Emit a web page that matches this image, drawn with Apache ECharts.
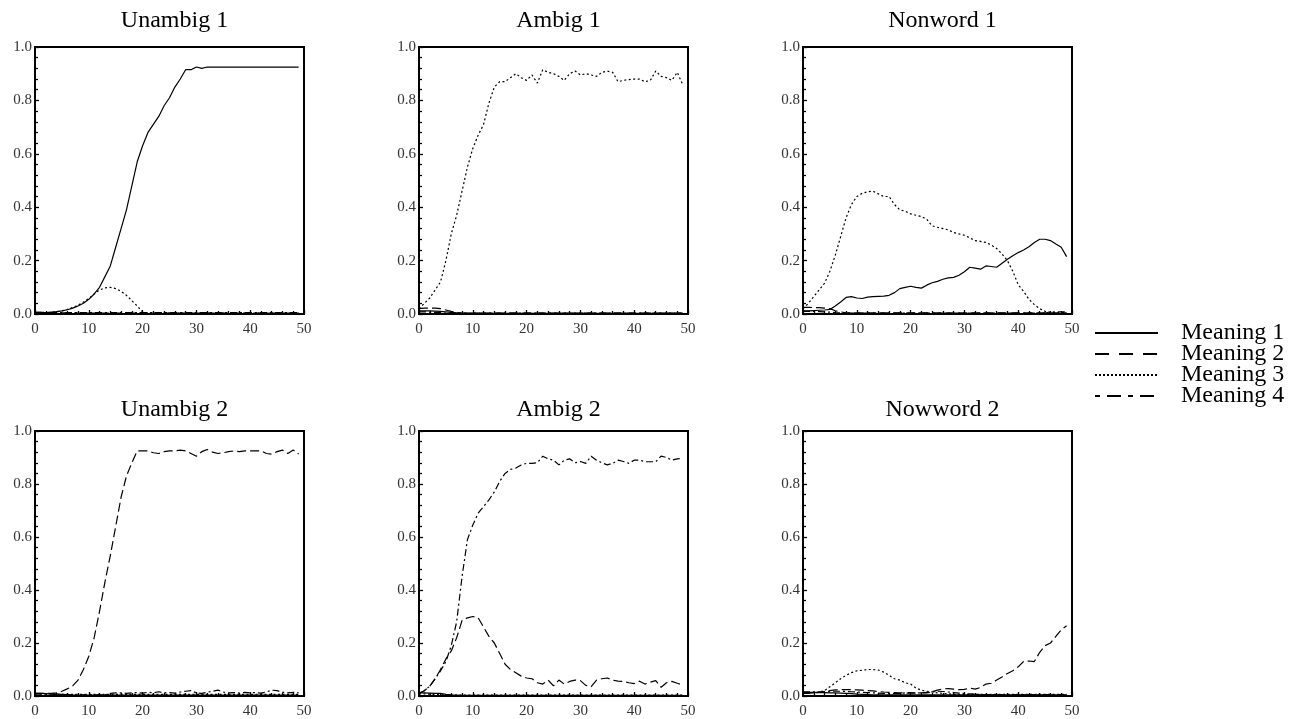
<!DOCTYPE html>
<html>
<head>
<meta charset="utf-8">
<script src="https://cdn.jsdelivr.net/npm/echarts@6/dist/echarts.min.js"></script>
<style>
html,body{margin:0;padding:0;background:#fff;}
#chart{width:1292px;height:719px;}
</style>
</head>
<body>
<div id="chart"></div>
<script>
// ---- DATA ----
const panelTitles = ['Unambig 1','Ambig 1','Nonword 1','Unambig 2','Ambig 2','Nowword 2'];
const meaningNames = ['Meaning 1','Meaning 2','Meaning 3','Meaning 4'];
const xTicks = [0,10,20,30,40,50];
const yTicks = [0.0,0.2,0.4,0.6,0.8,1.0];
const steps = [0,1,2,3,4,5,6,7,8,9,10,11,12,13,14,15,16,17,18,19,20,21,22,23,24,25,26,27,28,29,30,31,32,33,34,35,36,37,38,39,40,41,42,43,44,45,46,47,48,49];

// Unambig 1
const u1_m1 = [0.005,0.005,0.005,0.007,0.009,0.012,0.016,0.022,0.03,0.04,0.055,0.075,0.1,0.14,0.18,0.25,0.32,0.39,0.48,0.57,0.63,0.68,0.71,0.74,0.78,0.81,0.85,0.88,0.915,0.915,0.925,0.92,0.925,0.925,0.925,0.925,0.925,0.925,0.925,0.925,0.925,0.925,0.925,0.925,0.925,0.925,0.925,0.925,0.925,0.925];
const u1_m2 = [0.006,0.006,0.006,0.005,0.005,0.004,0.004,0.003,0.003,0.003,0.003,0.003,0.003,0.003,0.003,0.003,0.003,0.003,0.003,0.003,0.003,0.003,0.003,0.003,0.003,0.003,0.003,0.003,0.003,0.003,0.003,0.003,0.003,0.003,0.003,0.003,0.003,0.003,0.003,0.003,0.003,0.003,0.003,0.003,0.003,0.003,0.003,0.003,0.003,0.003];
const u1_m3 = [0.005,0.005,0.005,0.005,0.008,0.012,0.017,0.024,0.033,0.045,0.058,0.075,0.09,0.098,0.1,0.095,0.085,0.07,0.05,0.03,0.008,0.003,0.003,0.003,0.003,0.003,0.003,0.003,0.003,0.003,0.003,0.003,0.003,0.003,0.003,0.003,0.003,0.003,0.003,0.003,0.003,0.003,0.003,0.003,0.003,0.003,0.003,0.003,0.003,0.003];
const u1_m4 = [0.006,0.006,0.005,0.005,0.005,0.005,0.005,0.005,0.005,0.005,0.005,0.005,0.005,0.005,0.005,0.005,0.005,0.005,0.005,0.005,0.005,0.005,0.005,0.005,0.005,0.005,0.005,0.005,0.005,0.005,0.005,0.005,0.005,0.005,0.005,0.005,0.005,0.005,0.005,0.005,0.005,0.005,0.005,0.005,0.005,0.005,0.005,0.005,0.005,0.005];

// Ambig 1
const a1_m1 = [0.012,0.012,0.012,0.011,0.01,0.008,0.006,0.004,0.002,0.002,0.002,0.002,0.002,0.002,0.002,0.002,0.002,0.002,0.002,0.002,0.002,0.002,0.002,0.002,0.002,0.002,0.002,0.002,0.002,0.002,0.002,0.002,0.002,0.002,0.002,0.002,0.002,0.002,0.002,0.002,0.002,0.002,0.002,0.002,0.002,0.002,0.002,0.002,0.002,0.002];
const a1_m2 = [0.02,0.022,0.022,0.022,0.02,0.015,0.01,0.006,0.003,0.003,0.003,0.003,0.003,0.003,0.003,0.003,0.003,0.003,0.003,0.003,0.003,0.003,0.003,0.003,0.003,0.003,0.003,0.003,0.003,0.003,0.003,0.003,0.003,0.003,0.003,0.003,0.003,0.003,0.003,0.003,0.003,0.003,0.003,0.003,0.003,0.003,0.003,0.003,0.003,0.003];
const a1_m3 = [0.02,0.04,0.06,0.09,0.12,0.2,0.3,0.37,0.46,0.55,0.62,0.67,0.71,0.79,0.85,0.87,0.87,0.885,0.9,0.885,0.875,0.895,0.865,0.915,0.905,0.9,0.89,0.875,0.9,0.91,0.895,0.9,0.895,0.89,0.905,0.91,0.905,0.87,0.875,0.878,0.88,0.88,0.87,0.875,0.91,0.89,0.885,0.875,0.905,0.86];
const a1_m4 = [0.008,0.008,0.007,0.006,0.005,0.003,0.003,0.003,0.003,0.003,0.003,0.003,0.003,0.003,0.003,0.003,0.003,0.003,0.003,0.003,0.003,0.003,0.003,0.003,0.003,0.003,0.003,0.003,0.003,0.003,0.003,0.003,0.003,0.003,0.003,0.003,0.003,0.003,0.003,0.003,0.003,0.003,0.003,0.003,0.003,0.003,0.003,0.003,0.003,0.003];

// Nonword 1
const n1_m1 = [0.012,0.012,0.013,0.014,0.015,0.017,0.03,0.045,0.062,0.065,0.06,0.058,0.063,0.065,0.066,0.067,0.07,0.08,0.095,0.1,0.104,0.1,0.097,0.108,0.117,0.122,0.13,0.135,0.137,0.145,0.158,0.175,0.172,0.168,0.18,0.178,0.175,0.19,0.205,0.218,0.23,0.24,0.252,0.268,0.28,0.28,0.275,0.262,0.25,0.215];
const n1_m2 = [0.025,0.025,0.024,0.024,0.022,0.02,0.012,0.008,0.004,0.004,0.004,0.004,0.004,0.004,0.004,0.004,0.004,0.004,0.004,0.004,0.004,0.004,0.004,0.004,0.004,0.004,0.004,0.004,0.004,0.004,0.004,0.004,0.004,0.004,0.004,0.004,0.004,0.004,0.004,0.004,0.004,0.004,0.004,0.004,0.004,0.004,0.004,0.004,0.004,0.004];
const n1_m3 = [0.02,0.04,0.065,0.09,0.115,0.16,0.22,0.29,0.36,0.41,0.44,0.452,0.458,0.46,0.45,0.44,0.44,0.41,0.39,0.385,0.375,0.37,0.365,0.355,0.33,0.325,0.32,0.315,0.305,0.3,0.295,0.285,0.275,0.272,0.268,0.258,0.245,0.225,0.2,0.16,0.11,0.085,0.055,0.035,0.02,0.01,0.006,0.005,0.005,0.005];
const n1_m4 = [0.01,0.01,0.01,0.009,0.008,0.007,0.005,0.004,0.003,0.003,0.003,0.003,0.003,0.003,0.003,0.003,0.003,0.003,0.003,0.003,0.003,0.003,0.003,0.003,0.003,0.003,0.003,0.003,0.003,0.003,0.003,0.003,0.003,0.003,0.003,0.003,0.003,0.003,0.003,0.003,0.003,0.003,0.003,0.003,0.003,0.003,0.008,0.008,0.008,0.008];

// Unambig 2
const u2_m1 = [0.01,0.01,0.009,0.008,0.007,0.006,0.005,0.003,0.003,0.003,0.003,0.003,0.003,0.003,0.003,0.003,0.003,0.003,0.003,0.003,0.003,0.003,0.003,0.003,0.003,0.003,0.003,0.003,0.003,0.003,0.003,0.003,0.003,0.003,0.003,0.003,0.003,0.003,0.003,0.003,0.003,0.003,0.003,0.003,0.003,0.003,0.003,0.003,0.003,0.003];
const u2_m2 = [0.01,0.01,0.01,0.01,0.012,0.018,0.027,0.038,0.06,0.1,0.15,0.22,0.32,0.43,0.53,0.64,0.75,0.83,0.88,0.925,0.925,0.925,0.918,0.915,0.922,0.925,0.925,0.928,0.925,0.915,0.905,0.922,0.93,0.92,0.915,0.918,0.922,0.925,0.922,0.925,0.925,0.925,0.925,0.915,0.913,0.922,0.928,0.915,0.928,0.913];
const u2_m3 = [0.008,0.008,0.008,0.007,0.007,0.006,0.006,0.006,0.006,0.006,0.006,0.006,0.006,0.006,0.006,0.006,0.006,0.006,0.006,0.006,0.006,0.006,0.006,0.006,0.006,0.006,0.006,0.006,0.006,0.006,0.006,0.006,0.006,0.006,0.006,0.006,0.006,0.006,0.006,0.006,0.006,0.006,0.006,0.006,0.006,0.006,0.006,0.006,0.006,0.006];
const u2_m4 = [0.004,0.004,0.004,0.004,0.004,0.004,0.004,0.004,0.004,0.004,0.004,0.004,0.004,0.004,0.01,0.012,0.012,0.01,0.012,0.013,0.011,0.014,0.012,0.016,0.012,0.013,0.011,0.015,0.018,0.02,0.012,0.01,0.014,0.018,0.022,0.015,0.012,0.013,0.011,0.014,0.012,0.013,0.011,0.015,0.022,0.02,0.014,0.012,0.014,0.012];

// Ambig 2
const a2_m1 = [0.012,0.012,0.011,0.01,0.01,0.006,0.004,0.003,0.002,0.002,0.002,0.002,0.002,0.002,0.002,0.002,0.002,0.002,0.002,0.002,0.002,0.002,0.002,0.002,0.002,0.002,0.002,0.002,0.002,0.002,0.002,0.002,0.002,0.002,0.002,0.002,0.002,0.002,0.002,0.002,0.002,0.002,0.002,0.002,0.002,0.002,0.002,0.002,0.002,0.002];
const a2_m2 = [0.01,0.02,0.037,0.065,0.1,0.14,0.17,0.22,0.285,0.295,0.3,0.295,0.26,0.225,0.2,0.16,0.12,0.1,0.088,0.075,0.068,0.065,0.05,0.045,0.06,0.038,0.06,0.045,0.055,0.06,0.058,0.04,0.035,0.06,0.065,0.068,0.06,0.056,0.055,0.05,0.047,0.056,0.045,0.052,0.058,0.033,0.05,0.055,0.048,0.042];
const a2_m3 = [0.008,0.008,0.007,0.006,0.005,0.004,0.003,0.003,0.003,0.003,0.003,0.003,0.003,0.003,0.003,0.003,0.003,0.003,0.003,0.003,0.003,0.003,0.003,0.003,0.003,0.003,0.003,0.003,0.003,0.003,0.003,0.003,0.003,0.003,0.003,0.003,0.003,0.003,0.003,0.003,0.003,0.003,0.003,0.003,0.003,0.003,0.003,0.003,0.003,0.003];
const a2_m4 = [0.01,0.02,0.037,0.065,0.095,0.13,0.19,0.28,0.45,0.59,0.645,0.69,0.715,0.74,0.77,0.81,0.84,0.855,0.86,0.872,0.878,0.878,0.88,0.905,0.895,0.89,0.872,0.89,0.895,0.88,0.885,0.878,0.905,0.89,0.88,0.872,0.878,0.89,0.885,0.878,0.89,0.89,0.884,0.884,0.884,0.905,0.9,0.89,0.895,0.897];

// Nowword 2
const n2_m1 = [0.014,0.014,0.014,0.013,0.013,0.012,0.012,0.011,0.01,0.009,0.007,0.006,0.005,0.004,0.004,0.004,0.004,0.004,0.004,0.004,0.004,0.004,0.004,0.004,0.004,0.004,0.004,0.004,0.004,0.004,0.004,0.004,0.004,0.004,0.004,0.004,0.004,0.004,0.004,0.004,0.004,0.004,0.004,0.004,0.004,0.004,0.004,0.004,0.004,0.004];
const n2_m2 = [0.01,0.01,0.012,0.014,0.016,0.02,0.023,0.024,0.024,0.024,0.023,0.022,0.02,0.019,0.017,0.015,0.014,0.013,0.012,0.011,0.011,0.011,0.012,0.014,0.016,0.022,0.027,0.028,0.026,0.024,0.025,0.03,0.026,0.032,0.045,0.048,0.06,0.072,0.085,0.095,0.11,0.13,0.132,0.13,0.165,0.19,0.2,0.225,0.25,0.265];
const n2_m3 = [0.01,0.01,0.012,0.015,0.02,0.035,0.05,0.065,0.078,0.088,0.095,0.097,0.1,0.1,0.098,0.09,0.078,0.065,0.06,0.05,0.045,0.03,0.022,0.018,0.015,0.012,0.01,0.008,0.006,0.006,0.006,0.006,0.006,0.006,0.006,0.006,0.006,0.006,0.006,0.006,0.006,0.006,0.006,0.006,0.006,0.006,0.006,0.006,0.006,0.006];
const n2_m4 = [0.016,0.016,0.016,0.016,0.017,0.018,0.018,0.018,0.017,0.016,0.015,0.014,0.013,0.012,0.011,0.01,0.009,0.009,0.01,0.012,0.013,0.012,0.011,0.012,0.015,0.018,0.017,0.015,0.013,0.011,0.009,0.008,0.007,0.006,0.005,0.005,0.005,0.005,0.005,0.005,0.005,0.005,0.005,0.005,0.005,0.005,0.005,0.005,0.005,0.005];

const panelSeries = [
  [u1_m1,u1_m2,u1_m3,u1_m4],
  [a1_m1,a1_m2,a1_m3,a1_m4],
  [n1_m1,n1_m2,n1_m3,n1_m4],
  [u2_m1,u2_m2,u2_m3,u2_m4],
  [a2_m1,a2_m2,a2_m3,a2_m4],
  [n2_m1,n2_m2,n2_m3,n2_m4]
];

// ---- STYLE / LAYOUT ----
const dashStyles = ['solid',[9,4],[2,2.5],[7,3,2,3]];
const legendDash = ['solid',[14,10],[2,2],[5,7,14,7]];
const gridLefts = [35,419,803];
const gridTops = [47,431];
const gridW = 269, gridH = 267;
const serif = 'Liberation Serif';

const chart = echarts.init(document.getElementById('chart'), null, {renderer:'canvas'});

const grids = [], xAxes = [], yAxes = [], titles = [], series = [];
for (let p = 0; p < 6; p++) {
  const col = p % 3, row = Math.floor(p / 3);
  grids.push({left: gridLefts[col], top: gridTops[row], width: gridW, height: gridH,
    show: true, borderColor: '#000', borderWidth: 2, backgroundColor: 'transparent'});
  xAxes.push({type:'value', gridIndex:p, min:xTicks[0], max:xTicks[xTicks.length-1], interval:10,
    axisLine:{show:true, onZero:false, lineStyle:{color:'#000', width:2}},
    axisTick:{show:true, inside:true, length:4, lineStyle:{color:'#000', width:1.3}},
    minorTick:{show:true, splitNumber:5, length:3, lineStyle:{color:'#000', width:1.3}},
    splitLine:{show:false},
    axisLabel:{fontFamily:serif, fontSize:15, color:'#333', margin:8}});
  yAxes.push({type:'value', gridIndex:p, min:yTicks[0], max:yTicks[yTicks.length-1], interval:0.2,
    axisLine:{show:true, lineStyle:{color:'#000', width:2}},
    axisTick:{show:true, inside:true, length:4, lineStyle:{color:'#000', width:1.3}},
    minorTick:{show:true, splitNumber:5, length:3, lineStyle:{color:'#000', width:1.3}},
    splitLine:{show:false},
    axisLabel:{fontFamily:serif, fontSize:15, color:'#333', margin:3, formatter:v => v.toFixed(1)}});
  titles.push({text: panelTitles[p], left: gridLefts[col] + gridW/2, top: row === 0 ? 4 : 393,
    textAlign:'center',
    textStyle:{fontFamily:serif, fontSize:24, fontWeight:'normal', color:'#000'}});
  for (let m = 0; m < 4; m++) {
    const vals = panelSeries[p][m];
    series.push({type:'line', name: meaningNames[m], xAxisIndex:p, yAxisIndex:p,
      symbol:'none', showSymbol:false, smooth:false, animation:false,
      lineStyle:{color:'#000', width:1.2, type: dashStyles[m]},
      itemStyle:{color:'#000'},
      data: steps.map((x,i) => [x, vals[i]])});
  }
}

chart.setOption({
  backgroundColor:'#fff',
  animation:false,
  title: titles,
  grid: grids,
  xAxis: xAxes,
  yAxis: yAxes,
  legend: {
    orient:'vertical', left:1089, top:316, itemWidth:63, itemHeight:14, itemGap:-3,
    selectedMode:false,
    data: meaningNames.map((n,i) => ({name:n,
      itemStyle:{color:'rgba(0,0,0,0)', borderWidth:0, opacity:0},
      lineStyle:{width:2, type: legendDash[i], color:'#000'}})),
    textStyle:{fontFamily:serif, fontSize:24, color:'#000', lineHeight:20, padding:[0,0,0,18]}
  },
  series: series
});
</script>
</body>
</html>
